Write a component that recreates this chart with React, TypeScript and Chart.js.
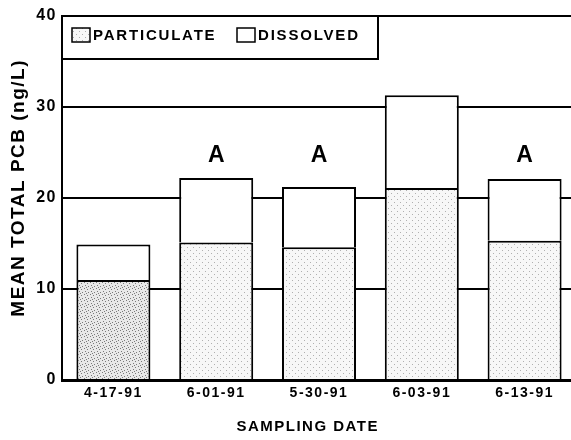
import React, { useEffect, useRef } from "react";
import { Chart, registerables } from "chart.js";

Chart.register(...registerables);

const categories = ["4-17-91", "6-01-91", "5-30-91", "6-03-91", "6-13-91"];
const particulate = [11.0, 15.1, 14.6, 21.1, 15.3];
const dissolved = [3.9, 7.1, 6.6, 10.2, 6.8];
const markers = ["", "A", "A", "", "A"];
const markerLevel = 24.7;
const yTicks = [0, 10, 20, 30, 40];
const seriesLabels = ["PARTICULATE", "DISSOLVED"];

const FONT = "'Liberation Sans', Arial, Helvetica, sans-serif";

function makePattern(bg: string, dot: string, dots: number[][]) {
  const c = document.createElement("canvas");
  c.width = 6;
  c.height = 6;
  const g = c.getContext("2d")!;
  g.fillStyle = bg;
  g.fillRect(0, 0, 6, 6);
  g.fillStyle = dot;
  dots.forEach(([x, y]) => g.fillRect(x, y, 1, 1));
  const ctx = document.createElement("canvas").getContext("2d")!;
  return ctx.createPattern(c, "repeat") as CanvasPattern;
}

export default function App() {
  const ref = useRef<HTMLCanvasElement | null>(null);

  useEffect(() => {
    if (!ref.current) return;
    const dense = makePattern("#e8e8e8", "#7a7a7a", [[0, 0], [3, 1], [1, 3], [4, 4], [2, 5]]);
    const light = makePattern("#f7f7f7", "#b0b0b0", [[1, 1], [4, 4]]);
    const partFills = [dense, light, light, light, light];

    const spacingPlugin = {
      id: "spacing",
      beforeDraw(chart: any) {
        chart.ctx.letterSpacing = "1.5px";
      },
    };

    const overlayPlugin = {
      id: "overlay",
      afterDatasetsDraw(chart: any) {
        const { ctx, chartArea, scales } = chart;
        // "A" markers
        ctx.save();
        ctx.letterSpacing = "0px";
        ctx.fillStyle = "#000";
        ctx.font = `bold 23px ${FONT}`;
        ctx.textAlign = "center";
        ctx.textBaseline = "middle";
        const meta = chart.getDatasetMeta(1);
        markers.forEach((m, i) => {
          if (!m) return;
          const el = meta.data[i];
          ctx.fillText(m, el.x, scales.y.getPixelForValue(markerLevel));
        });
        ctx.restore();

        // legend box
        ctx.save();
        const lx = chartArea.left;
        const ly = chartArea.top;
        const lw = 316;
        const lh = 43;
        ctx.fillStyle = "#fff";
        ctx.fillRect(lx, ly, lw, lh);
        ctx.strokeStyle = "#000";
        ctx.lineWidth = 2;
        ctx.strokeRect(lx, ly, lw, lh);
        ctx.font = `bold 15px ${FONT}`;
        ctx.letterSpacing = "1.8px";
        ctx.textBaseline = "middle";
        ctx.textAlign = "left";
        const items = [
          { x: lx + 10, fill: light },
          { x: lx + 175, fill: "#fff" },
        ];
        chart.data.datasets.forEach((ds: any, i: number) => {
          const it = items[i];
          const bx = it.x;
          const by = ly + 12;
          ctx.fillStyle = it.fill;
          ctx.fillRect(bx, by, 18, 14);
          ctx.lineWidth = 1.5;
          ctx.strokeStyle = "#000";
          ctx.strokeRect(bx, by, 18, 14);
          ctx.fillStyle = "#000";
          ctx.fillText(ds.label, bx + 21, by + 7.5);
        });
        ctx.restore();
      },
    };

    const chart = new Chart(ref.current, {
      type: "bar",
      data: {
        labels: categories,
        datasets: [
          {
            label: seriesLabels[0],
            data: particulate,
            backgroundColor: partFills as any,
            borderColor: "#000",
            borderWidth: 2,
            barPercentage: 0.72,
            categoryPercentage: 1,
          },
          {
            label: seriesLabels[1],
            data: dissolved,
            backgroundColor: "#fff",
            borderColor: "#000",
            borderWidth: 2,
            barPercentage: 0.72,
            categoryPercentage: 1,
          },
        ],
      },
      options: {
        responsive: false,
        animation: false,
        devicePixelRatio: 1,
        layout: { padding: { top: 16, left: 0, right: 0, bottom: 0 } },
        plugins: {
          legend: { display: false },
          tooltip: { enabled: false },
        },
        scales: {
          x: {
            stacked: true,
            grid: { display: false, drawTicks: false },
            border: { display: true, color: "#000", width: 3 },
            ticks: {
              color: "#000",
              font: { family: FONT, size: 14, weight: "bold" },
              padding: 5,
              maxRotation: 0,
              autoSkip: false,
            },
            title: {
              display: true,
              text: "SAMPLING DATE    ",
              color: "#000",
              font: { family: FONT, size: 15, weight: "bold" },
              padding: { top: 0, bottom: 4 },
            },
            afterFit(scale: any) {
              scale.height = 60;
            },
          },
          y: {
            stacked: true,
            min: 0,
            max: 40,
            afterBuildTicks(scale: any) {
              scale.ticks = yTicks.map((v) => ({ value: v }));
            },
            grid: { color: "#000", lineWidth: 2, drawTicks: false },
            border: { display: true, color: "#000", width: 2 },
            ticks: {
              color: "#000",
              font: { family: FONT, size: 16, weight: "bold" },
              padding: 5,
            },
            title: {
              display: true,
              text: "   MEAN TOTAL PCB (ng/L)",
              color: "#000",
              font: { family: FONT, size: 19, weight: "bold" },
              padding: { top: 7, bottom: 0 },
            },
            afterFit(scale: any) {
              scale.width = 62;
            },
          },
        },
      },
      plugins: [spacingPlugin, overlayPlugin],
    });
    return () => chart.destroy();
  }, []);

  return (
    <div
      style={{
        position: "absolute",
        left: 0,
        top: 0,
        width: 571,
        height: 440,
        overflow: "hidden",
        background: "#fff",
      }}
    >
      <canvas ref={ref} width={576} height={440} style={{ display: "block" }} />
    </div>
  );
}
